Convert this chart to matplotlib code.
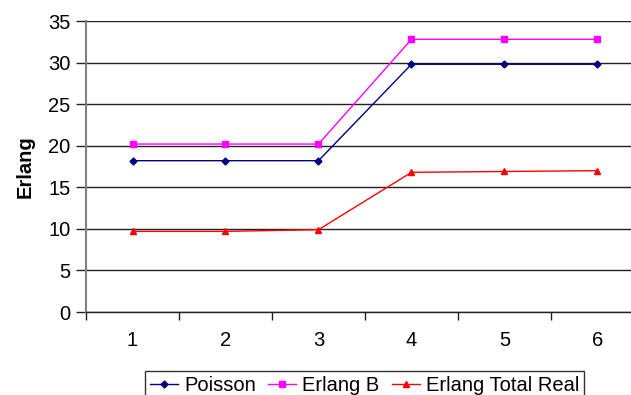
import numpy as np
import matplotlib
matplotlib.use('Agg')
import matplotlib.pyplot as plt

plt.rcParams['font.family'] = ['Liberation Sans', 'DejaVu Sans']

x = [1, 2, 3, 4, 5, 6]
poisson = [18.2, 18.2, 18.2, 29.8, 29.8, 29.8]
erlang_b = [20.2, 20.2, 20.2, 32.8, 32.8, 32.8]
erlang_real = [9.7, 9.7, 9.9, 16.8, 16.9, 17.0]

fig = plt.figure(figsize=(6.31, 3.95), dpi=100)
ax = fig.add_axes([86/631, 83/395, 558/631, 291/395])

ax.plot(x, poisson, color='#000080', marker='D', markersize=3.5, lw=1, label='Poisson')
ax.plot(x, erlang_b, color='#FF00FF', marker='s', markersize=5, lw=1, label='Erlang B')
ax.plot(x, erlang_real, color='#FF0000', marker='^', markersize=5, lw=1, label='Erlang Total Real')

ax.set_xlim(0.5, 6.5)
ax.set_ylim(0, 35)
ax.set_yticks(np.arange(0, 36, 5))
ax.set_xticks(x)
ax.set_xticks(np.arange(0.5, 6.6, 1), minor=True)
ax.tick_params(axis='x', which='major', length=0, pad=14, labelsize=14.5)
ax.tick_params(axis='x', which='minor', length=6, color='#222222', width=1)
ax.tick_params(axis='y', length=7, color='#222222', width=1, labelsize=14.5, pad=4)
ax.yaxis.grid(True, color='#222222', lw=1)
ax.set_axisbelow(True)

for s in ['top', 'right']:
    ax.spines[s].set_visible(False)
ax.spines['left'].set_color('#808080')
ax.spines['left'].set_linewidth(1.5)
ax.spines['bottom'].set_color('#222222')
ax.spines['bottom'].set_linewidth(1)

ax.set_ylabel('Erlang', fontsize=14.5, fontweight='bold', labelpad=10)

leg = ax.legend(loc='upper center', bbox_to_anchor=(0.578, 0.061), bbox_transform=fig.transFigure,
                ncol=3, fontsize=14.5, frameon=True, fancybox=False, edgecolor='black',
                handlelength=1.4, handletextpad=0.3, columnspacing=0.6, borderpad=0.25,
                borderaxespad=0)
leg.get_frame().set_linewidth(1)

fig.savefig('out.png', dpi=100)
